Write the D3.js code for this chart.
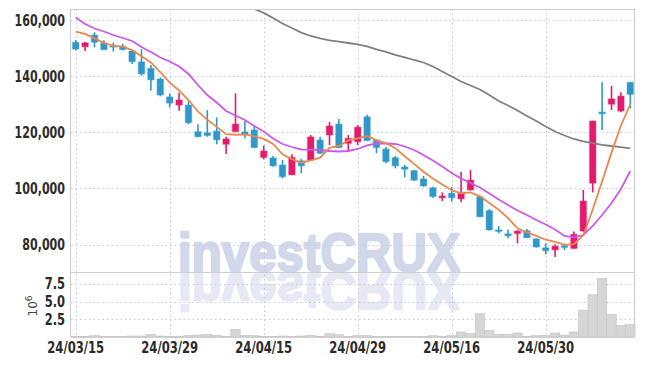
<!DOCTYPE html>
<html><head><meta charset="utf-8">
<script src="https://cdn.jsdelivr.net/npm/d3@7"></script>
<style>
html,body{margin:0;padding:0;background:#fff;}
svg{display:block;}
</style></head>
<body>
<svg id="chart" width="645" height="366"></svg>
<script>
// ---------------- data ----------------
const dates = ["24/03/15","24/03/18","24/03/19","24/03/20","24/03/21","24/03/22","24/03/25","24/03/26","24/03/27","24/03/28",
"24/03/29","24/04/01","24/04/02","24/04/03","24/04/04","24/04/05","24/04/08","24/04/09","24/04/11","24/04/12",
"24/04/15","24/04/16","24/04/17","24/04/18","24/04/19","24/04/22","24/04/23","24/04/24","24/04/25","24/04/26",
"24/04/29","24/04/30","24/05/02","24/05/03","24/05/07","24/05/08","24/05/09","24/05/10","24/05/13","24/05/14",
"24/05/16","24/05/17","24/05/20","24/05/21","24/05/22","24/05/23","24/05/24","24/05/27","24/05/28","24/05/29",
"24/05/30","24/05/31","24/06/03","24/06/04","24/06/05","24/06/07","24/06/10","24/06/11","24/06/12","24/06/13"];

const openP  = [152200,150600,154800,151900,151100,150800,149100,145200,142900,139100,
132700,129800,129800,120300,119900,120500,115800,120300,120200,120900,
111100,110900,108400,104900,109900,110200,117300,119100,123000,116100,
116700,125600,117300,114100,111000,107700,106400,103400,100300,96700,
98300,96300,99500,97100,92100,85200,83800,83900,84900,82000,
78800,78100,79500,78600,84800,101900,127300,130100,127700,137900];
const highP  = [153000,152400,155800,152900,152100,151700,149500,149700,144100,139600,
134000,134200,131300,122900,128000,125400,118500,134000,124200,122400,
115300,111600,110200,112200,110600,119100,118500,123800,124800,119100,
122700,126300,117500,114900,111600,108400,106600,104500,100600,98600,
100600,106000,106600,97400,92600,86600,85400,85100,85500,82200,
80400,80100,80400,84600,99500,124200,137900,136600,134400,138000];
const lowP   = [149300,149100,150400,149500,148900,149400,144500,140300,134900,132900,
128900,127800,123000,118300,118500,115800,112300,120200,117900,114500,
110400,107800,103600,104700,105400,109900,112300,115500,114500,113000,
115500,117000,112600,109000,107200,104000,102700,100600,96700,95500,
95300,95100,99200,89800,85000,84000,82200,80400,82300,78900,
76500,75500,78000,78500,84600,98600,120900,128000,127200,128600];
const closeP = [149800,152000,152200,149600,150500,149600,145300,140900,138800,133400,
130500,131600,123500,118500,118900,117400,117700,123000,119400,114600,
113400,108100,104200,111100,108100,118400,112600,122300,114600,117900,
121900,117100,114600,109600,108100,106900,103000,100900,97100,97300,
96700,98300,103000,89900,85200,84900,83100,84800,82400,79100,
77800,79400,79300,83600,95500,124100,126700,132000,133000,133600];

// moving-average lines
const maShort = [156000,155200,153600,152000,150900,150700,149400,147200,145000,141600,
137800,135000,131600,127500,124600,122000,119400,119200,119300,118600,
117700,115900,112200,110500,109200,110000,111000,114500,115200,117200,
117900,118800,117200,116200,114400,111500,108800,106000,103600,101400,
99400,98300,98600,97200,94800,92400,89400,85800,84300,83100,
81700,80900,79900,80100,83300,92500,102500,112800,122500,130000];
const maMid = [161070,158750,157140,156070,154820,153750,152680,150540,148750,146790,
145360,143570,140890,136960,133390,130710,127680,126070,124460,122320,
120360,117860,115890,114820,113930,113860,113750,113390,113210,113390,
114110,115360,116070,116070,115890,115000,113750,111960,110000,107860,
105540,103570,101960,100360,98210,96070,94110,92140,90540,88750,
87140,85360,83040,82570,83390,86610,90540,94820,99820,106250];
const maLong = [null,null,null,null,null,null,null,null,null,null,
null,null,null,null,null,null,null,null,165540,164110,
162710,160890,158930,157320,155680,154460,153640,152930,152430,151960,
151430,150790,149710,148750,147750,146860,145890,145000,143570,141790,
140000,138210,136790,135360,133390,131250,129640,127860,125890,124110,
122140,120360,118930,117680,116790,116180,115610,115180,114750,114290];

const volume = [60000,50000,190000,50000,50000,60000,140000,140000,380000,140000,
80000,80000,190000,280000,380000,240000,80000,1040000,240000,190000,
60000,50000,140000,60000,140000,240000,80000,470000,330000,80000,
190000,190000,60000,60000,50000,50000,50000,60000,190000,80000,
190000,710000,470000,3300000,940000,380000,380000,570000,90000,190000,
240000,570000,280000,710000,3800000,6000000,8300000,3200000,1650000,1800000];

const priceTicks = [80000,100000,120000,140000,160000];
const volTicks = [2500000,5000000,7500000];
const volTickLabels = ["2.5","5.0","7.5"];
const dateTickLabels = ["24/03/15","24/03/29","24/04/15","24/04/29","24/05/16","24/05/30"];

// ---------------- layout ----------------
const L = 71, R = 635, T = 9, MB = 272, VB = 337;
const svg = d3.select("#chart");

const x = d3.scaleBand().domain(d3.range(dates.length)).range([L, R]).padding(0);
const cx = i => x(i) + x.bandwidth()/2;
const y = d3.scaleLinear().domain([70180, 164100]).range([MB, T]);
const yv = d3.scaleLinear().domain([0, 9200000]).range([VB, MB]);

const upColor = "#e31b6d", downColor = "#3098c9";
const gridColor = "#c3c8dc";
const axisFont = "'DejaVu Sans Condensed','Liberation Sans',sans-serif";

const defs = svg.append("defs");
defs.append("clipPath").attr("id","mainClip").append("rect")
  .attr("x",L).attr("y",T).attr("width",R-L).attr("height",MB-T);
defs.append("clipPath").attr("id","volClip").append("rect")
  .attr("x",L).attr("y",MB).attr("width",R-L).attr("height",VB-MB);

// ---------------- watermark ----------------
const wmFont = "'Liberation Sans',Arial,sans-serif";
const wm = svg.append("g");
wm.append("text").attr("id","wmText").attr("x",178).attr("y",271)
  .attr("font-family",wmFont).attr("font-weight","bold")
  .attr("font-size",54).attr("textLength",282).attr("lengthAdjust","spacingAndGlyphs")
  .attr("fill","#d2d7ea").attr("stroke","#d2d7ea").attr("stroke-width",2.4)
  .attr("stroke-linejoin","round").text("investCRUX");
// mirrored reflection in the volume panel (re-uses the same text element)
wm.append("g").attr("clip-path","url(#volClip)")
  .append("use").attr("href","#wmText")
  .attr("transform","translate(0,543) scale(1,-1)")
  .attr("opacity",0.55);

// ---------------- grid ----------------
const grid = svg.append("g").attr("stroke",gridColor).attr("stroke-dasharray","1.5,3").attr("stroke-width",1);
const dateTickIdx = dateTickLabels.map(d => dates.indexOf(d));
grid.selectAll("line.v").data(dateTickIdx).join("line")
  .attr("x1",d=>Math.round(cx(d))+0.5).attr("x2",d=>Math.round(cx(d))+0.5).attr("y1",T).attr("y2",VB);
grid.selectAll("line.h").data(priceTicks).join("line")
  .attr("x1",L).attr("x2",R).attr("y1",d=>Math.round(y(d))+0.5).attr("y2",d=>Math.round(y(d))+0.5);
grid.selectAll("line.hv").data(volTicks).join("line")
  .attr("x1",L).attr("x2",R).attr("y1",d=>Math.round(yv(d))+0.5).attr("y2",d=>Math.round(yv(d))+0.5);

// ---------------- volume bars ----------------
svg.append("g").selectAll("rect").data(volume).join("rect")
  .attr("x",(d,i)=>x(i)).attr("width",x.bandwidth())
  .attr("y",d=>yv(d)).attr("height",d=>VB-yv(d))
  .attr("fill","#d6d6d6").attr("stroke","#c4c4c4").attr("stroke-width",0.6);

// ---------------- candles ----------------
const cg = svg.append("g").attr("clip-path","url(#mainClip)");
const bw = 6.4;
const idx = d3.range(dates.length);
cg.selectAll("line.wick").data(idx).join("line")
  .attr("x1",i=>cx(i)).attr("x2",i=>cx(i))
  .attr("y1",i=>y(highP[i])).attr("y2",i=>y(lowP[i]))
  .attr("stroke",i=>closeP[i]>=openP[i]?upColor:downColor).attr("stroke-width",1.6);
cg.selectAll("rect.body").data(idx).join("rect")
  .attr("x",i=>cx(i)-bw/2).attr("width",bw)
  .attr("y",i=>y(Math.max(openP[i],closeP[i])))
  .attr("height",i=>Math.max(1.5, Math.abs(y(openP[i])-y(closeP[i]))))
  .attr("fill",i=>closeP[i]>=openP[i]?upColor:downColor)
  .attr("stroke",i=>closeP[i]>=openP[i]?upColor:downColor)
  .attr("stroke-opacity",0.3).attr("stroke-width",1.5);

// ---------------- MA lines ----------------
const line = d3.line().defined(d=>d!=null).x((d,i)=>cx(i)).y(d=>y(d));
cg.append("path").datum(maLong).attr("d",line).attr("fill","none").attr("stroke","#808080").attr("stroke-width",1.8);
cg.append("path").datum(maMid).attr("d",line).attr("fill","none").attr("stroke","#cc58e8").attr("stroke-width",1.8);
cg.append("path").datum(maShort).attr("d",line).attr("fill","none").attr("stroke","#e9874e").attr("stroke-width",1.8);

// ---------------- frame ----------------
const frame = svg.append("g").attr("stroke","#cfcfcf").attr("stroke-width",1.2).attr("fill","none");
frame.append("line").attr("x1",L).attr("x2",R).attr("y1",T+0.5).attr("y2",T+0.5);
frame.append("line").attr("x1",L).attr("x2",R).attr("y1",MB+0.5).attr("y2",MB+0.5);
frame.append("line").attr("x1",R-0.5).attr("x2",R-0.5).attr("y1",T).attr("y2",VB);
frame.append("line").attr("x1",L-0.5).attr("x2",L-0.5).attr("y1",T).attr("y2",VB);
frame.append("line").attr("x1",L).attr("x2",R).attr("y1",VB+0.5).attr("y2",VB+0.5);

// ---------------- axes ----------------
function styleTicks(g, squeeze){
  g.select(".domain").remove();
  g.selectAll("text").attr("font-family",axisFont).attr("font-weight","bold")
   .attr("font-size",15).attr("fill","#2b2b2b")
   .each(function(){
     const w = this.getComputedTextLength();
     d3.select(this).attr("textLength", w*squeeze).attr("lengthAdjust","spacingAndGlyphs");
   });
}
const yAxis = d3.axisLeft(y).tickValues(priceTicks).tickFormat(d3.format(",")).tickSize(0).tickPadding(6);
const ga = svg.append("g").attr("transform",`translate(${L},0)`).call(yAxis);
styleTicks(ga, 0.82);

const yvAxis = d3.axisLeft(yv).tickValues(volTicks).tickFormat((d,i)=>volTickLabels[i]).tickSize(0).tickPadding(6);
const gv = svg.append("g").attr("transform",`translate(${L},0)`).call(yvAxis);
styleTicks(gv, 0.85);

const xAxis = d3.axisBottom(x).tickValues(dateTickIdx).tickFormat(i=>dates[i]).tickSize(0).tickPadding(5);
const gx = svg.append("g").attr("transform",`translate(0,${VB})`).call(xAxis);
styleTicks(gx, 0.86);

// exponent label
const ex = svg.append("text").attr("transform","translate(37,306) rotate(-90)")
  .attr("text-anchor","middle").attr("font-family","'DejaVu Sans',sans-serif").attr("font-size",12).attr("fill","#444");
ex.append("tspan").text("10");
ex.append("tspan").attr("dy",-5).attr("font-size",9).text("6");
</script>
</body></html>
